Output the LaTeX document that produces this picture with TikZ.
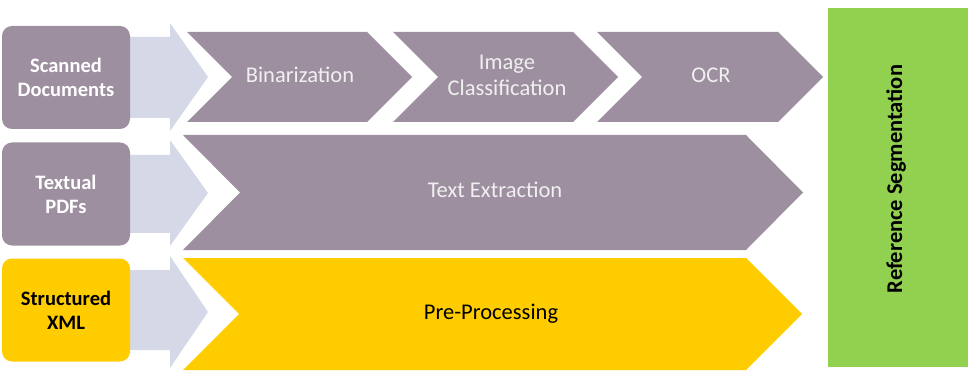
\documentclass[tikz,border=0pt]{standalone}
\usepackage{fontspec}
\setmainfont{Carlito}
\definecolor{mauve}{HTML}{9D8FA0}
\definecolor{lightarr}{HTML}{D5D8E7}
\definecolor{ylw}{HTML}{FFCC00}
\definecolor{grn}{HTML}{92D050}
\definecolor{offw}{HTML}{F0F0F0}
\tikzset{
  srcbox/.style={rounded corners=10pt, minimum width=128pt, minimum height=103pt, inner sep=0pt, align=center, font=\fontsize{20.5}{24}\selectfont\bfseries},
  chevtext/.style={align=center, font=\fontsize{22.5}{26}\selectfont, text=offw},
  blockarr/.style={fill=lightarr, draw=none},
  chev/.style={fill=mauve, draw=none},
}
\begin{document}
\begin{tikzpicture}[x=1pt,y=-1pt]
\useasboundingbox (0,0) rectangle (968,371);
% light block arrows
\fill[lightarr] (120,37) -- (170,37) -- (170,23) -- (208,77) -- (170,131) -- (170,118) -- (120,118) -- cycle;
\fill[lightarr] (120,155) -- (170,155) -- (170,140) -- (208,193) -- (170,246) -- (170,233) -- (120,233) -- cycle;
\fill[lightarr] (120,270) -- (170,270) -- (170,256) -- (208,312) -- (170,368) -- (170,350) -- (120,350) -- cycle;
% source boxes
\node[srcbox, fill=mauve, text=white] (scan) at (66,77.5) {Scanned\\Documents};
\node[srcbox, fill=mauve, text=white] (pdf) at (66,194) {Textual\\PDFs};
\node[srcbox, fill=ylw, text=black] (xml) at (66,310) {Structured\\XML};
% chevrons row 1
\fill[chev] (187,32) -- (367,32) -- (412,77) -- (367,122) -- (187,122) -- (232,77) -- cycle;
\fill[chev] (393,32) -- (573,32) -- (618,77) -- (573,122) -- (393,122) -- (438,77) -- cycle;
\fill[chev] (597,32) -- (778,32) -- (823,77) -- (778,122) -- (597,122) -- (642,77) -- cycle;
% row 2 and 3
\fill[chev] (183,135) -- (746,135) -- (803,192.5) -- (746,250) -- (183,250) -- (240,192.5) -- cycle;
\fill[ylw] (183,258) -- (746,258) -- (802,314) -- (746,370) -- (183,370) -- (239,314) -- cycle;
% texts
\node[chevtext] (bin) at (300,75) {Binarization};
\node[chevtext] (imgc) at (507,75) {Image\\Classification};
\node[chevtext] (ocr) at (711,75) {OCR};
\node[chevtext] (textx) at (495,190) {Text Extraction};
\node[chevtext, text=black] (prep) at (491,314) {Pre-Processing};
% green box
\fill[grn] (828,8) rectangle (968,367);
\node[rotate=90, font=\fontsize{22.5}{26}\selectfont\bfseries] (refseg) at (896,179) {Reference Segmentation};
\end{tikzpicture}
\end{document}
